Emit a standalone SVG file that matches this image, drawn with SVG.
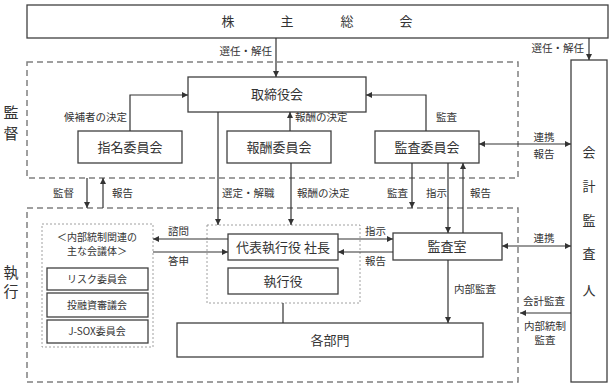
<svg xmlns="http://www.w3.org/2000/svg" width="612" height="387" viewBox="0 0 612 387">
<style>
text{font-family:"Noto Sans CJK JP","Noto Sans CJK SC",sans-serif;fill:#333;}
.box{fill:#fff;stroke:#404040;stroke-width:1.3;}
.grp{fill:none;stroke:#808080;stroke-width:1.5;stroke-dasharray:6,4;}
.dot{fill:none;stroke:#888;stroke-width:0.8;stroke-dasharray:2,2;}
.c{fill:none;stroke:#333;stroke-width:1.2;}
.a{marker-end:url(#ah);}
.b{marker-start:url(#ah);marker-end:url(#ah);}
.t13{font-size:13px;text-anchor:middle;}
.t15{font-size:15px;text-anchor:middle;}
.t10{font-size:10.5px;}
.t9{font-size:10px;}
.m{text-anchor:middle;}
.e{text-anchor:end;}
</style>
<defs>
<marker id="ah" viewBox="0 0 6 6" refX="6" refY="3" markerWidth="6" markerHeight="6" markerUnits="userSpaceOnUse" orient="auto-start-reverse">
<path d="M0,0 L6,3 L0,6 z" fill="#333"/>
</marker>
</defs>
<rect width="612" height="387" fill="#fff"/>

<g id="supervision-area">
<rect class="grp" x="27" y="62" width="491" height="116"/>
<text class="t15" x="11" y="118">監</text>
<text class="t15" x="11" y="139">督</text>
</g>
<g id="execution-area">
<rect class="grp" x="27" y="208" width="491" height="174"/>
<text class="t15" x="11" y="278">執</text>
<text class="t15" x="11" y="297">行</text>
</g>

<g id="shareholders">
<rect class="box" x="27" y="5" width="581" height="33"/>
<text class="t13" x="228" y="26">株</text>
<text class="t13" x="287" y="26">主</text>
<text class="t13" x="347" y="26">総</text>
<text class="t13" x="406" y="26">会</text>
</g>

<g id="board">
<rect class="box" x="188" y="77" width="178" height="35"/>
<text class="t13" x="277" y="99">取締役会</text>
</g>
<g id="nomination">
<rect class="box" x="78" y="131" width="104" height="32"/>
<text class="t13" x="130" y="152">指名委員会</text>
</g>
<g id="compensation">
<rect class="box" x="227" y="131" width="104" height="32"/>
<text class="t13" x="279" y="152">報酬委員会</text>
</g>
<g id="audit-committee">
<rect class="box" x="375" y="131" width="104" height="32"/>
<text class="t13" x="427" y="152">監査委員会</text>
</g>
<g id="auditor">
<rect class="box" x="571" y="60" width="36" height="322"/>
<text class="t13" x="589" y="157">会</text>
<text class="t13" x="589" y="191">計</text>
<text class="t13" x="589" y="225">監</text>
<text class="t13" x="589" y="258">査</text>
<text class="t13" x="589" y="295">人</text>
</g>

<g id="internal-control-bodies">
<rect class="dot" x="42" y="224" width="111" height="123"/>
<text class="t9 m" x="97" y="241">＜内部統制関連の</text>
<text class="t9 m" x="97" y="255">主な会議体＞</text>
<rect class="box" x="47" y="268" width="101" height="22"/>
<text class="t9 m" x="97" y="283">リスク委員会</text>
<rect class="box" x="47" y="293" width="101" height="24"/>
<text class="t9 m" x="97" y="309">投融資審議会</text>
<rect class="box" x="47" y="320" width="101" height="23"/>
<text class="t9 m" x="97" y="335">J-SOX委員会</text>
</g>

<g id="executives">
<rect class="dot" x="207" y="225" width="153" height="78"/>
<rect class="box" x="228" y="234" width="110" height="26"/>
<text class="t13" x="283" y="252">代表執行役 社長</text>
<rect class="box" x="228" y="268" width="110" height="26"/>
<text class="t13" x="283" y="286">執行役</text>
</g>
<g id="audit-office">
<rect class="box" x="393" y="233" width="109" height="27"/>
<text class="t13" x="447" y="251">監査室</text>
</g>
<g id="departments">
<rect class="box" x="177" y="323" width="306" height="34"/>
<text class="t13" x="330" y="345">各部門</text>
</g>

<g id="connectors">
<path class="c a" d="M276,38 V77"/>
<path class="c a" d="M589,38 V60"/>
<path class="c a" d="M130,131 V95 H188"/>
<path class="c a" d="M290,131 V112"/>
<path class="c a" d="M426,131 V95 H366"/>
<path class="c a" d="M218,112 V225"/>
<path class="c a" d="M291,163 V225"/>
<path class="c b" d="M479,144 H571"/>
<path class="c a" d="M87,178 V208"/>
<path class="c a" d="M103,208 V178"/>
<path class="c a" d="M412,163 V208"/>
<path class="c a" d="M448,163 V233"/>
<path class="c a" d="M463,233 V163"/>
<path class="c a" d="M338,239 H393"/>
<path class="c a" d="M393,252 H338"/>
<path class="c a" d="M228,239 H153"/>
<path class="c a" d="M153,252 H228"/>
<path class="c b" d="M502,246 H571"/>
<path class="c a" d="M448,260 V323"/>
<path class="c" d="M283,303 V323"/>
<path class="c a" d="M571,313 H520"/>
</g>

<g id="labels">
<text class="t10 e" x="272" y="55">選任・解任</text>
<text class="t10 e" x="584" y="52">選任・解任</text>
<text class="t10 e" x="127" y="121">候補者の決定</text>
<text class="t10" x="295" y="121">報酬の決定</text>
<text class="t10" x="436" y="121">監査</text>
<text class="t10 m" x="544" y="141">連携</text>
<text class="t10 m" x="544" y="158">報告</text>
<text class="t10" x="53" y="197">監督</text>
<text class="t10" x="112" y="197">報告</text>
<text class="t10" x="222" y="197">選定・解職</text>
<text class="t10" x="297" y="197">報酬の決定</text>
<text class="t10" x="387" y="197">監査</text>
<text class="t10" x="426" y="197">指示</text>
<text class="t10" x="470" y="197">報告</text>
<text class="t10" x="168" y="235">諮問</text>
<text class="t10" x="168" y="265">答申</text>
<text class="t10" x="365" y="235">指示</text>
<text class="t10" x="365" y="265">報告</text>
<text class="t10 m" x="544" y="242">連携</text>
<text class="t10" x="454" y="293">内部監査</text>
<text class="t10" x="523" y="305">会計監査</text>
<text class="t10 m" x="545" y="330">内部統制</text>
<text class="t10 m" x="545" y="344">監査</text>
</g>
</svg>
